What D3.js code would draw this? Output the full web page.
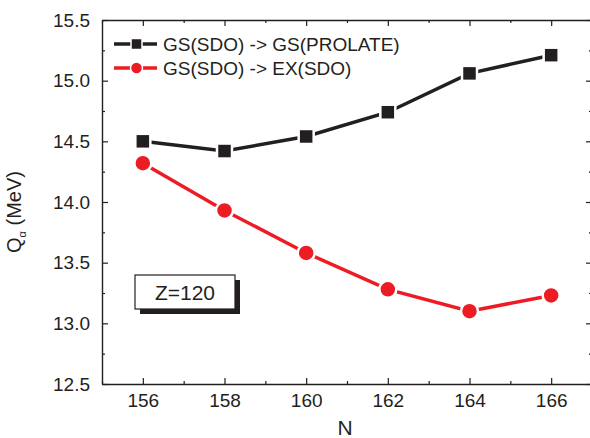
<!DOCTYPE html>
<html>
<head>
<meta charset="utf-8">
<script src="https://cdn.jsdelivr.net/npm/d3@7"></script>
<style>
  body { margin: 0; overflow: hidden; background: #fff; }
  text { font-family: "Liberation Sans", Arial, sans-serif; fill: #231f20; }
</style>
</head>
<body>
<div id="chart"></div>
<script>
// data
const nVals = [156, 158, 160, 162, 164, 166];
const gsProlate = [14.50, 14.42, 14.54, 14.74, 15.06, 15.21];
const exSdo = [14.32, 13.93, 13.58, 13.28, 13.10, 13.23];
const xTicks = [156, 158, 160, 162, 164, 166];
const yTicks = [12.5, 13.0, 13.5, 14.0, 14.5, 15.0, 15.5];
const seriesNames = ["GS(SDO) -> GS(PROLATE)", "GS(SDO) -> EX(SDO)"];

const black = "#231f20", red = "#ed1c24";
const margin = { top: 20, right: 0, bottom: 54, left: 102 },
  width = 490,
  height = 364;

const svg = d3.select("#chart")
  .append("svg")
  .attr("width", 590)
  .attr("height", 438)
  .append("g")
  .attr("transform", `translate(${margin.left},${margin.top})`);

const x = d3.scaleLinear().domain([155, 167]).range([0, width]);
const y = d3.scaleLinear().domain([12.5, 15.5]).range([height, 0]);

// axes, ticks pointing inward
function styleAxis(g) {
  g.select(".domain").attr("stroke", black).attr("stroke-width", 1.4);
  g.selectAll(".tick line").attr("stroke", black).attr("stroke-width", 1.2);
  g.selectAll("text").style("font-size", "19px").attr("fill", black);
}
svg.append("g")
  .attr("transform", `translate(0,${height})`)
  .call(d3.axisBottom(x).tickValues(xTicks).tickFormat(d3.format("d")).tickSizeInner(-6).tickSizeOuter(0).tickPadding(10))
  .call(styleAxis);
svg.append("g")
  .call(d3.axisLeft(y).tickValues(yTicks).tickFormat(d3.format(".1f")).tickSizeInner(-6).tickSizeOuter(0).tickPadding(12))
  .call(styleAxis);
svg.append("g")
  .call(d3.axisTop(x).tickValues(xTicks).tickFormat("").tickSizeInner(-6).tickSizeOuter(0))
  .call(styleAxis);
svg.append("g")
  .attr("transform", `translate(${width},0)`)
  .call(d3.axisRight(y).tickValues(yTicks).tickFormat("").tickSizeInner(-6).tickSizeOuter(0))
  .call(styleAxis);

// minor ticks
const xMinor = d3.range(155, 168, 1).filter(v => !xTicks.includes(v));
const yMinor = d3.range(12.75, 15.5, 0.5);
function minor(g) { g.select(".domain").remove(); g.selectAll(".tick line").attr("stroke", black).attr("stroke-width", 1.2); }
svg.append("g").attr("transform", `translate(0,${height})`)
  .call(d3.axisBottom(x).tickValues(xMinor).tickFormat("").tickSize(-3)).call(minor);
svg.append("g")
  .call(d3.axisTop(x).tickValues(xMinor).tickFormat("").tickSize(-3)).call(minor);
svg.append("g")
  .call(d3.axisLeft(y).tickValues(yMinor).tickFormat("").tickSize(-3)).call(minor);
svg.append("g").attr("transform", `translate(${width},0)`)
  .call(d3.axisRight(y).tickValues(yMinor).tickFormat("").tickSize(-3)).call(minor);

// axis titles
svg.append("text")
  .attr("x", x(161) - 2)
  .attr("y", height + 51)
  .attr("text-anchor", "middle")
  .style("font-size", "21px")
  .text("N");
const yl = svg.append("text")
  .attr("transform", `translate(${-81},${height / 2 + 10}) rotate(-90)`)
  .attr("text-anchor", "middle")
  .style("font-size", "20px");
yl.append("tspan").text("Q");
yl.append("tspan").attr("dy", 5).style("font-size", "11px").text("α");
yl.append("tspan").attr("dy", -5).text(" (MeV)");

// lines + markers
const line = d3.line().x((d, i) => x(nVals[i])).y(d => y(d));
svg.append("path").datum(gsProlate)
  .attr("d", line).attr("fill", "none").attr("stroke", black).attr("stroke-width", 3.5);
svg.append("path").datum(exSdo)
  .attr("d", line).attr("fill", "none").attr("stroke", red).attr("stroke-width", 3.5);

svg.selectAll(".sq")
  .data(gsProlate)
  .join("rect")
  .attr("class", "sq")
  .attr("x", (d, i) => x(nVals[i]) - 7.5)
  .attr("y", d => y(d) - 7.5)
  .attr("width", 15).attr("height", 15)
  .attr("fill", black).attr("stroke", "#fff").attr("stroke-width", 2.5);
svg.selectAll(".dot")
  .data(exSdo)
  .join("circle")
  .attr("class", "dot")
  .attr("cx", (d, i) => x(nVals[i]))
  .attr("cy", d => y(d))
  .attr("r", 8.5)
  .attr("fill", red).attr("stroke", "#fff").attr("stroke-width", 2.5);

// legend
const legend = svg.append("g").attr("transform", "translate(12,24)");
[black, red].forEach((c, i) => {
  const row = legend.append("g").attr("transform", `translate(0,${i * 24})`);
  row.append("line").attr("x1", 0).attr("x2", 43).attr("stroke", c).attr("stroke-width", 3.5);
  if (i === 0) {
    row.append("rect").attr("x", 17).attr("y", -5.5).attr("width", 11).attr("height", 11)
      .attr("fill", c).attr("stroke", "#fff").attr("stroke-width", 1.5);
  } else {
    row.append("circle").attr("cx", 22.5).attr("r", 6)
      .attr("fill", c).attr("stroke", "#fff").attr("stroke-width", 1.5);
  }
  row.append("text").attr("x", 49).attr("y", 7).style("font-size", "19px").text(seriesNames[i]);
});

// Z=120 box with shadow
const box = svg.append("g").attr("transform", "translate(33,255)");
box.append("rect").attr("x", 5).attr("y", 5).attr("width", 100).attr("height", 34).attr("fill", black);
box.append("rect").attr("x", 0).attr("y", 0).attr("width", 100).attr("height", 34)
  .attr("fill", "#fff").attr("stroke", black).attr("stroke-width", 1.2);
box.append("text").attr("x", 50).attr("y", 25).attr("text-anchor", "middle")
  .style("font-size", "21px").text("Z=120");
</script>
</body>
</html>
